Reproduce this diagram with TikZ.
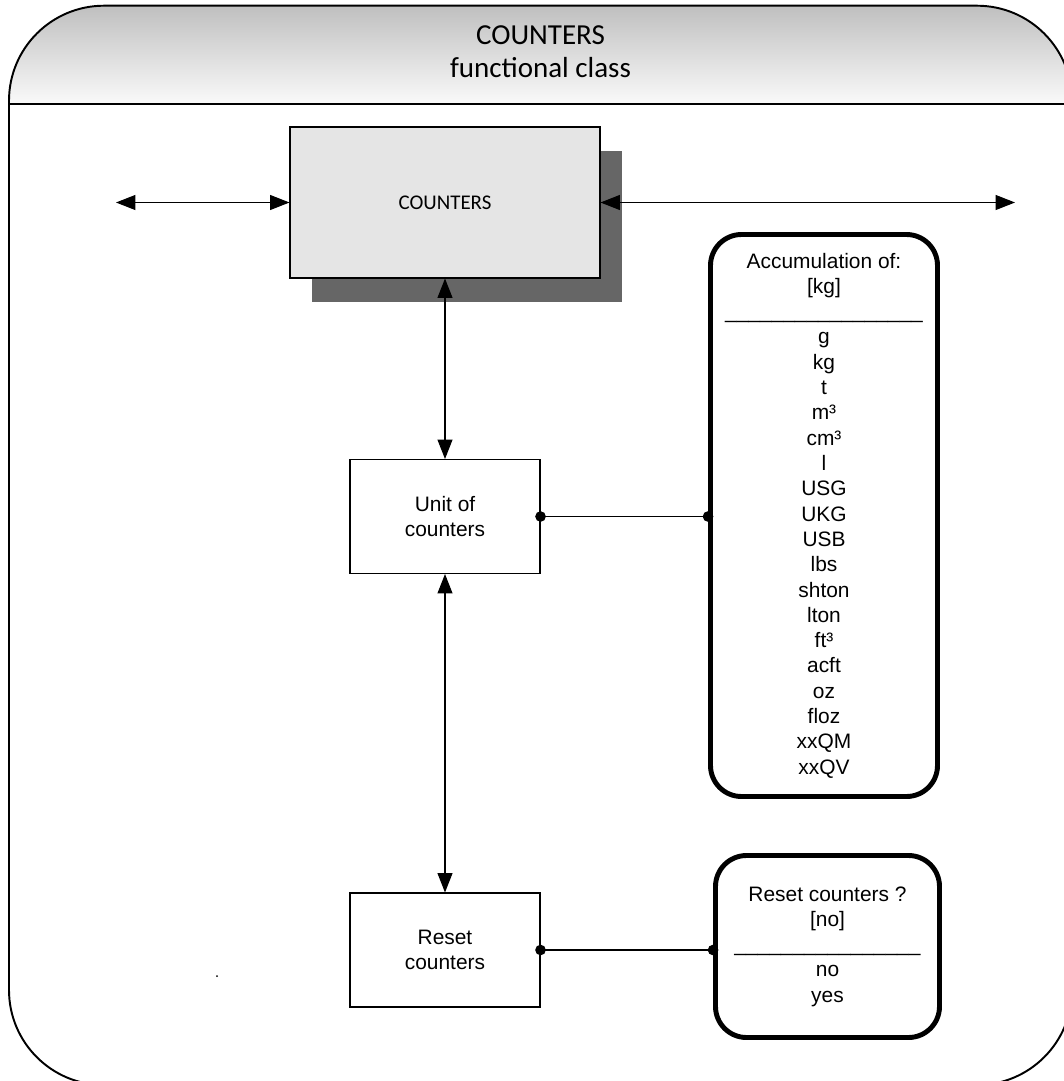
\documentclass[tikz,border=0pt]{standalone}
\usepackage{fontspec}
\setmainfont{Liberation Sans}
\newfontfamily\calibfont{Carlito}
\usepackage{tikz}
\usetikzlibrary{arrows.meta,positioning,shadows}

\begin{document}
\begin{tikzpicture}[
    func/.style={draw, line width=0.6pt, minimum width=3.8cm, minimum height=2.28cm, align=center, font=\fontsize{11.9}{14.4}\selectfont},
    mainbox/.style={func, fill=black!10, minimum width=6.2cm, minimum height=3.02cm, font=\calibfont\fontsize{11.9}{14.4}\selectfont, general shadow={fill=black!60, shadow xshift=0.44cm, shadow yshift=-0.47cm}},
    param/.style={draw, line width=2.8pt, rounded corners=0.62cm, align=center, font=\fontsize{11.9}{14.4}\selectfont},
    link/.style={{Triangle[length=11pt,width=8.5pt]}-{Triangle[length=11pt,width=8.5pt]}, line width=0.6pt},
    tie/.style={{Circle[length=6pt]}-{Circle[length=6pt]}, line width=0.6pt, shorten <=-3pt, shorten >=-3pt},
]
    \useasboundingbox (0,0) rectangle (21.26,-21.62);
    \shade[top color=black!25, bottom color=black!2] (0.18,-2.08) -- (0.18,-2.014) arc[start angle=180, end angle=90, radius=1.9] -- (19.54,-0.114) arc[start angle=90, end angle=0, radius=1.9] -- (21.44,-2.08) -- cycle;
    \draw[line width=1.1pt, rounded corners=1.9cm] (0.18,-0.114) rectangle (21.44,-21.7);
    \draw[line width=1.1pt] (0.18,-2.08) -- (21.44,-2.08);
    \node[font=\calibfont\fontsize{16.5}{19}\selectfont, align=center] (title) at (10.81,-1.03) {COUNTERS\\functional class};

    \node[mainbox] (counters) at (8.9,-4.05) {COUNTERS};
    \node[func] (unit) at (8.9,-10.33) {Unit of\\counters};
    \node[func] (reset) at (8.9,-19.0) {Reset\\counters};
    \node[param, minimum width=4.54cm, minimum height=11.24cm] (accum) at (16.48,-10.31) {Accumulation of:\\{[kg]}\\\_\_\_\_\_\_\_\_\_\_\_\_\_\_\_\_\_\\g\\kg\\t\\m³\\cm³\\l\\USG\\UKG\\USB\\lbs\\shton\\lton\\ft³\\acft\\oz\\floz\\xxQM\\xxQV};
    \node[param, minimum width=4.48cm, minimum height=3.64cm] (resetq) at (16.55,-18.93) {Reset counters ?\\{[no]}\\\_\_\_\_\_\_\_\_\_\_\_\_\_\_\_\_\\no\\yes};
    \coordinate (leftend) at (2.32,-4.05);
    \coordinate (rightend) at (20.3,-4.05);

    \draw[link] (leftend) -- (counters.west);
    \draw[link] (counters.east) -- (rightend);
    \draw[link] (counters) -- (unit);
    \draw[link] (unit) -- (reset);
    \draw[tie] (unit.east) -- (unit.east -| accum.west);
    \draw[tie] (reset.east) -- (reset.east -| resetq.west);
    \fill (4.34,-19.52) circle (0.02);
\end{tikzpicture}
\end{document}
